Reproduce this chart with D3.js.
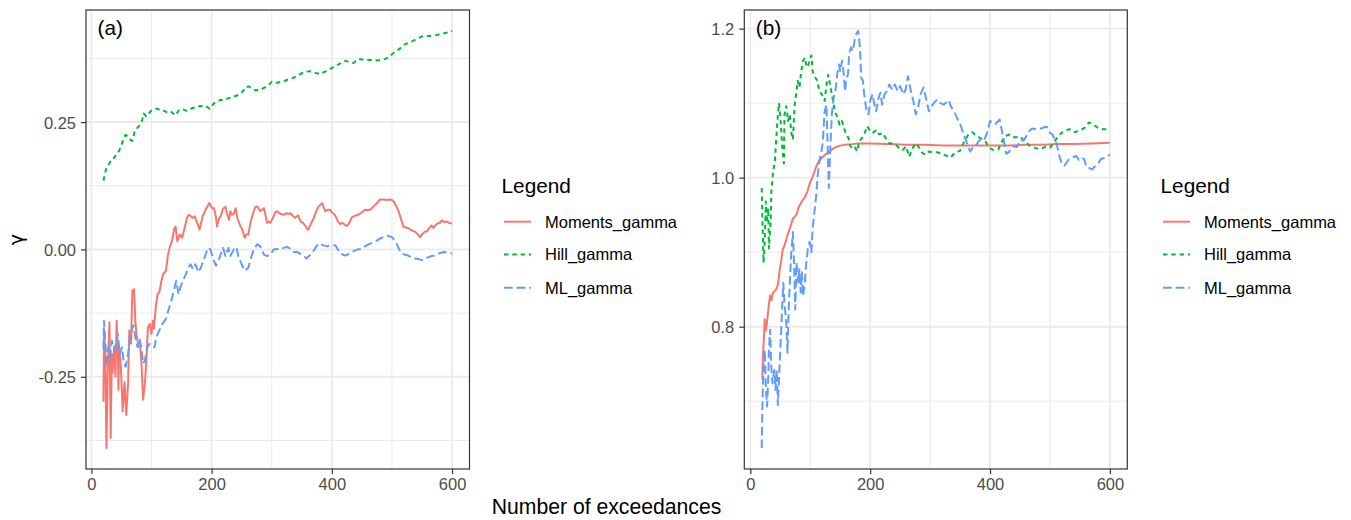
<!DOCTYPE html>
<html>
<head>
<meta charset="utf-8">
<script src="https://cdn.jsdelivr.net/npm/d3@7"></script>
<style>
  html, body { margin: 0; padding: 0; background: #ffffff; }
  svg { display: block; font-family: "Liberation Sans", Arial, Helvetica, sans-serif; }
</style>
</head>
<body>
<svg id="chart" width="1351" height="520"></svg>
<script>
// ---- Estimates of the tail index gamma against number of exceedances k ----

// Panel (a)
const momentsA = [
  [20,-0.299],[21,-0.166],[23,-0.2],[25,-0.39],[27,-0.25],[28,-0.205],[30,-0.143],[32,-0.37],
  [34,-0.205],[35,-0.243],[38,-0.19],[40,-0.25],[42,-0.14],[44,-0.2],[45,-0.276],[46,-0.19],
  [49,-0.23],[52,-0.318],[55,-0.26],[58,-0.325],[61,-0.263],[63,-0.159],[66,-0.185],[68,-0.081],
  [71,-0.078],[73,-0.14],[75,-0.166],[78,-0.19],[81,-0.19],[83,-0.218],[86,-0.295],[89,-0.263],
  [92,-0.205],[94,-0.153],[97,-0.146],[100,-0.166],[102,-0.14],[104,-0.156],[107,-0.114],[110,-0.088],
  [113,-0.084],[116,-0.065],[119,-0.049],[124,-0.042],[127,-0.013],[130,0.003],[134,0.016],[138,0.042],
  [140,0.045],[143,0.016],[147,0.029],[151,0.023],[155,0.042],[159,0.062],[162,0.068],[165,0.066],
  [168,0.062],[172,0.065],[176,0.052],[180,0.039],[185,0.065],[190,0.078],[196,0.091],[201,0.081],
  [204,0.081],[207,0.065],[209,0.045],[212,0.06],[215,0.065],[219,0.08],[223,0.084],[226,0.068],
  [229,0.058],[231,0.075],[234,0.068],[237,0.07],[240,0.081],[243,0.06],[245,0.055],[248,0.045],
  [251,0.039],[255,0.023],[258,0.03],[261,0.029],[265,0.055],[270,0.075],[273,0.084],[276,0.084],
  [281,0.075],[284,0.078],[287,0.081],[290,0.065],[292,0.052],[295,0.055],[298,0.052],[303,0.065],
  [306,0.073],[309,0.075],[314,0.07],[320,0.068],[325,0.071],[328,0.07],[331,0.071],[335,0.066],
  [339,0.062],[344,0.067],[348,0.055],[352,0.052],[356,0.046],[359,0.04],[361,0.039],[365,0.05],
  [370,0.062],[374,0.075],[378,0.084],[384,0.091],[389,0.075],[393,0.078],[397,0.078],[400,0.073],
  [403,0.07],[406,0.066],[410,0.055],[414,0.05],[418,0.052],[422,0.048],[425,0.046],[429,0.052],
  [433,0.063],[438,0.066],[444,0.068],[449,0.072],[455,0.078],[460,0.077],[464,0.078],[470,0.085],
  [475,0.091],[480,0.098],[486,0.098],[492,0.097],[497,0.098],[500,0.097],[503,0.094],[507,0.085],
  [511,0.075],[515,0.06],[519,0.045],[523,0.043],[527,0.042],[532,0.038],[538,0.035],[543,0.03],
  [547,0.024],[551,0.031],[555,0.035],[558,0.035],[562,0.042],[566,0.047],[569,0.042],[573,0.048],
  [577,0.052],[580,0.052],[583,0.057],[587,0.054],[591,0.055],[595,0.052],[600,0.051]
];

const hillA = [
  [20,0.135],[24,0.156],[27,0.163],[30,0.169],[35,0.179],[38,0.18],[42,0.188],[46,0.193],
  [50,0.205],[54,0.219],[57,0.225],[60,0.222],[64,0.216],[68,0.213],[72,0.232],[76,0.238],
  [80,0.243],[84,0.252],[87,0.267],[91,0.261],[95,0.266],[100,0.273],[105,0.276],[110,0.276],
  [116,0.272],[121,0.272],[126,0.269],[132,0.271],[137,0.266],[140,0.263],[146,0.274],[152,0.275],
  [159,0.272],[165,0.276],[170,0.278],[176,0.281],[182,0.281],[187,0.283],[192,0.28],[197,0.276],
  [204,0.287],[210,0.29],[215,0.294],[220,0.293],[226,0.296],[231,0.298],[237,0.3],[242,0.302],
  [248,0.305],[253,0.312],[256,0.318],[262,0.32],[268,0.315],[273,0.312],[277,0.313],[281,0.313],
  [287,0.317],[292,0.32],[296,0.324],[300,0.329],[305,0.327],[309,0.327],[315,0.329],[320,0.33],
  [326,0.333],[331,0.335],[336,0.337],[342,0.34],[346,0.343],[350,0.346],[355,0.347],[359,0.349],
  [363,0.35],[367,0.348],[374,0.346],[381,0.344],[385,0.347],[389,0.349],[395,0.353],[400,0.356],
  [404,0.359],[408,0.361],[414,0.365],[419,0.369],[423,0.37],[428,0.368],[432,0.367],[436,0.366],
  [440,0.37],[444,0.374],[450,0.373],[455,0.372],[462,0.372],[469,0.372],[476,0.371],[483,0.372],
  [489,0.374],[494,0.377],[498,0.381],[502,0.385],[508,0.39],[514,0.395],[518,0.399],[522,0.403],
  [529,0.406],[536,0.41],[543,0.414],[550,0.418],[555,0.418],[561,0.419],[568,0.42],[575,0.421],
  [582,0.423],[589,0.425],[594,0.426],[600,0.429]
];

const mlA = [
  [20,-0.195],[21,-0.14],[23,-0.179],[25,-0.23],[28,-0.192],[31,-0.211],[34,-0.179],[38,-0.198],
  [41,-0.185],[44,-0.166],[47,-0.205],[51,-0.192],[54,-0.224],[57,-0.23],[61,-0.205],[64,-0.179],
  [67,-0.159],[70,-0.149],[73,-0.172],[77,-0.192],[80,-0.175],[83,-0.192],[86,-0.224],[89,-0.218],
  [93,-0.192],[97,-0.185],[100,-0.188],[105,-0.192],[108,-0.172],[113,-0.159],[118,-0.146],[124,-0.136],
  [128,-0.12],[133,-0.1],[137,-0.081],[141,-0.062],[145,-0.088],[149,-0.071],[152,-0.062],[157,-0.049],
  [161,-0.036],[165,-0.029],[169,-0.039],[173,-0.029],[178,-0.045],[182,-0.036],[186,-0.023],[190,-0.01],
  [194,0.003],[198,0.0],[202,-0.016],[207,-0.032],[211,-0.023],[215,-0.01],[219,0.003],[223,-0.013],
  [228,0.003],[231,-0.013],[237,0.0],[241,0.005],[245,-0.016],[251,-0.032],[255,-0.042],[261,-0.036],
  [265,-0.019],[270,0.0],[276,0.01],[281,0.006],[287,-0.01],[292,-0.013],[298,-0.01],[303,0.0],
  [308,0.001],[314,0.001],[320,0.003],[325,0.005],[330,0.002],[336,-0.005],[342,-0.005],[347,-0.008],
  [353,-0.012],[358,-0.018],[363,-0.012],[367,-0.008],[372,0.002],[378,0.012],[382,0.01],[386,0.008],
  [392,0.006],[397,0.008],[401,0.008],[406,0.008],[410,0.0],[414,-0.008],[418,-0.01],[422,-0.012],
  [426,-0.01],[431,-0.008],[435,-0.004],[439,-0.002],[443,0.0],[447,0.001],[452,0.004],[458,0.008],
  [463,0.011],[469,0.014],[474,0.017],[480,0.021],[485,0.024],[491,0.027],[496,0.026],[500,0.024],
  [504,0.018],[508,0.011],[512,0.0],[516,-0.008],[521,-0.01],[527,-0.012],[532,-0.015],[538,-0.018],
  [544,-0.019],[550,-0.021],[555,-0.018],[561,-0.015],[566,-0.013],[572,-0.012],[578,-0.008],[586,-0.005],
  [592,-0.006],[600,-0.008]
];

// Panel (b)
const momentsB = [
  [20,0.729],[21,0.76],[23,0.79],[24,0.81],[26,0.795],[27,0.8],[29,0.815],[31,0.83],[33,0.842],
  [35,0.835],[38,0.846],[42,0.849],[45,0.853],[47,0.862],[49,0.876],[51,0.886],[54,0.903],[57,0.909],
  [60,0.917],[62,0.923],[66,0.932],[71,0.945],[77,0.95],[81,0.961],[86,0.968],[91,0.974],[95,0.981],
  [99,0.992],[104,1.001],[110,1.015],[115,1.023],[121,1.028],[127,1.032],[134,1.036],[140,1.04],
  [149,1.043],[157,1.044],[170,1.045],[180,1.046],[200,1.046],[230,1.045],[260,1.044],[290,1.044],
  [320,1.043],[360,1.043],[400,1.043],[430,1.043],[456,1.044],[490,1.044],[511,1.045],[540,1.045],
  [570,1.046],[600,1.047]
];

const hillB = [
  [19,0.986],[20,0.95],[22,0.886],[24,0.914],[26,0.968],[27,0.94],[30,0.959],[31,0.905],[34,0.94],
  [35,0.981],[38,1.008],[41,1.022],[43,1.049],[46,1.085],[48,1.1],[51,1.071],[53,1.044],[56,1.019],
  [57,1.085],[60,1.096],[63,1.076],[66,1.085],[68,1.062],[71,1.051],[74,1.098],[77,1.116],[79,1.13],
  [82,1.121],[85,1.143],[88,1.157],[91,1.161],[93,1.152],[96,1.148],[99,1.159],[102,1.164],[104,1.143],
  [107,1.136],[112,1.13],[115,1.116],[119,1.112],[124,1.103],[128,1.13],[130,1.138],[134,1.121],
  [138,1.103],[141,1.089],[146,1.08],[149,1.071],[153,1.076],[156,1.067],[160,1.058],[164,1.053],
  [167,1.042],[171,1.04],[174,1.042],[178,1.035],[182,1.049],[186,1.053],[190,1.058],[195,1.069],
  [199,1.064],[204,1.06],[210,1.064],[215,1.058],[221,1.06],[226,1.053],[232,1.046],[237,1.046],
  [243,1.044],[248,1.04],[254,1.037],[260,1.042],[265,1.028],[271,1.04],[276,1.046],[282,1.04],
  [287,1.033],[293,1.031],[298,1.035],[304,1.034],[312,1.034],[323,1.031],[334,1.027],[342,1.034],
  [350,1.036],[356,1.047],[364,1.058],[370,1.061],[378,1.056],[386,1.052],[392,1.049],[399,1.04],
  [406,1.037],[414,1.038],[419,1.047],[425,1.056],[433,1.058],[441,1.054],[450,1.055],[458,1.049],
  [466,1.043],[475,1.04],[483,1.038],[491,1.041],[500,1.04],[508,1.049],[516,1.058],[524,1.063],
  [533,1.065],[541,1.061],[549,1.063],[558,1.067],[565,1.074],[571,1.072],[580,1.067],[588,1.065],
  [600,1.065]
];

const mlB = [
  [19,0.637],[20,0.688],[22,0.747],[24,0.769],[26,0.715],[28,0.693],[30,0.733],[31,0.769],[33,0.796],
  [35,0.747],[37,0.724],[40,0.742],[42,0.715],[44,0.742],[46,0.695],[49,0.751],[51,0.787],[53,0.823],
  [55,0.859],[57,0.832],[60,0.805],[62,0.765],[64,0.823],[66,0.859],[68,0.895],[71,0.927],[73,0.882],
  [75,0.823],[77,0.886],[80,0.859],[82,0.877],[84,0.846],[86,0.873],[88,0.841],[91,0.859],[93,0.882],
  [96,0.905],[99,0.914],[102,0.9],[104,0.932],[107,0.954],[110,0.977],[113,1.008],[116,1.026],
  [118,1.031],[121,1.049],[124,1.089],[127,1.098],[129,1.044],[131,0.986],[133,1.031],[136,1.085],
  [139,1.107],[142,1.116],[145,1.139],[148,1.152],[150,1.143],[153,1.157],[156,1.139],[158,1.116],
  [160,1.13],[163,1.139],[165,1.166],[168,1.175],[171,1.17],[174,1.184],[177,1.193],[180,1.197],
  [183,1.175],[185,1.134],[188,1.13],[190,1.112],[194,1.089],[197,1.085],[200,1.103],[204,1.112],
  [207,1.098],[210,1.089],[214,1.107],[217,1.114],[220,1.098],[224,1.112],[228,1.116],[232,1.125],
  [237,1.118],[241,1.125],[246,1.116],[250,1.123],[255,1.112],[259,1.118],[263,1.136],[268,1.116],
  [272,1.103],[276,1.085],[280,1.094],[284,1.112],[289,1.121],[293,1.107],[298,1.089],[301,1.094],
  [306,1.1],[312,1.105],[317,1.1],[323,1.098],[331,1.104],[335,1.095],[340,1.089],[345,1.08],
  [351,1.07],[356,1.058],[362,1.045],[367,1.035],[371,1.04],[375,1.041],[380,1.048],[385,1.052],
  [390,1.05],[395,1.06],[400,1.076],[405,1.074],[409,1.072],[416,1.078],[422,1.054],[427,1.032],
  [431,1.034],[436,1.04],[441,1.042],[445,1.041],[450,1.05],[456,1.05],[461,1.056],[466,1.063],
  [470,1.066],[477,1.065],[482,1.066],[486,1.066],[491,1.068],[495,1.068],[500,1.06],[504,1.058],
  [511,1.046],[516,1.028],[520,1.018],[524,1.016],[531,1.024],[537,1.027],[544,1.029],[548,1.024],
  [553,1.027],[557,1.025],[561,1.014],[565,1.013],[570,1.011],[575,1.015],[580,1.018],[585,1.025],
  [590,1.026],[595,1.028],[600,1.031]
];

// Series identity (legend order)
const seriesNames = ["Moments_gamma", "Hill_gamma", "ML_gamma"];

// Axis ticks
const xTickValues = [0, 200, 400, 600];
const xTickLabels = ["0", "200", "400", "600"];
const xMinorValues = [100, 300, 500];

const yTickValuesA = [-0.25, 0, 0.25];
const yTickLabelsA = ["-0.25", "0.00", "0.25"];
const yMinorValuesA = [-0.375, -0.125, 0.125, 0.375];

const yTickValuesB = [0.8, 1.0, 1.2];
const yTickLabelsB = ["0.8", "1.0", "1.2"];
const yMinorValuesB = [0.7, 0.9, 1.1];

// ---- Styling ----
const colors = ["#F8766D", "#00BA38", "#619CFF"];
const dashes = [null, "4.5,3.8", "8.7,4"];
const tickFont = 16.5, titleFont = 20.8, axisTitleFont = 21.2;
const gridColor = "#EBEBEB", inkColor = "#333333", tickTextColor = "#4D4D4D";

const svg = d3.select("#chart");

const panels = [
  { tag: "(a)", series: [momentsA, hillA, mlA], left: 86, right: 469.5, top: 10, bottom: 469,
    yTicks: yTickValuesA, yLabels: yTickLabelsA, yMinor: yMinorValuesA, legendX: 501.5 },
  { tag: "(b)", series: [momentsB, hillB, mlB], left: 744.3, right: 1127.3, top: 10, bottom: 469,
    yTicks: yTickValuesB, yLabels: yTickLabelsB, yMinor: yMinorValuesB, legendX: 1160.5 }
];

// ggplot-style continuous expansion: 5% on each side of the data range
function expanded(ext) {
  const pad = (ext[1] - ext[0]) * 0.05;
  return [ext[0] - pad, ext[1] + pad];
}

panels.forEach((p, pi) => {
  const all = p.series.flat();
  const x = d3.scaleLinear().domain(expanded(d3.extent(all, d => d[0]))).range([p.left, p.right]);
  const y = d3.scaleLinear().domain(expanded(d3.extent(all, d => d[1]))).range([p.bottom, p.top]);

  const g = svg.append("g");

  // panel background
  g.append("rect").attr("x", p.left).attr("y", p.top)
    .attr("width", p.right - p.left).attr("height", p.bottom - p.top).attr("fill", "#ffffff");

  // minor grid
  g.selectAll(null).data(xMinorValues).enter().append("line")
    .attr("x1", d => x(d)).attr("x2", d => x(d)).attr("y1", p.top).attr("y2", p.bottom)
    .attr("stroke", gridColor).attr("stroke-width", 1);
  g.selectAll(null).data(p.yMinor).enter().append("line")
    .attr("y1", d => y(d)).attr("y2", d => y(d)).attr("x1", p.left).attr("x2", p.right)
    .attr("stroke", gridColor).attr("stroke-width", 1);

  // major grid
  g.selectAll(null).data(xTickValues).enter().append("line")
    .attr("x1", d => x(d)).attr("x2", d => x(d)).attr("y1", p.top).attr("y2", p.bottom)
    .attr("stroke", gridColor).attr("stroke-width", 1.9);
  g.selectAll(null).data(p.yTicks).enter().append("line")
    .attr("y1", d => y(d)).attr("y2", d => y(d)).attr("x1", p.left).attr("x2", p.right)
    .attr("stroke", gridColor).attr("stroke-width", 1.9);

  // lines
  const clipId = "clip" + pi;
  svg.append("clipPath").attr("id", clipId).append("rect")
    .attr("x", p.left).attr("y", p.top).attr("width", p.right - p.left).attr("height", p.bottom - p.top);
  const line = d3.line().x(d => x(d[0])).y(d => y(d[1]));
  p.series.forEach((s, si) => {
    g.append("path").datum(s).attr("d", line)
      .attr("clip-path", `url(#${clipId})`)
      .attr("fill", "none").attr("stroke", colors[si]).attr("stroke-width", 2)
      .attr("stroke-linejoin", "round").attr("stroke-linecap", "butt")
      .attr("stroke-dasharray", dashes[si]);
  });

  // panel border
  g.append("rect").attr("x", p.left).attr("y", p.top)
    .attr("width", p.right - p.left).attr("height", p.bottom - p.top)
    .attr("fill", "none").attr("stroke", inkColor).attr("stroke-width", 1.2);

  // x axis
  const xAxis = d3.axisBottom(x).tickValues(xTickValues)
    .tickFormat((d, i) => xTickLabels[i]).tickSize(5).tickPadding(4);
  const gx = g.append("g").attr("transform", `translate(0,${p.bottom})`).call(xAxis);
  gx.select(".domain").remove();
  gx.selectAll(".tick line").attr("stroke", inkColor).attr("stroke-width", 1.2);
  gx.selectAll(".tick text").attr("fill", tickTextColor).attr("font-size", tickFont)
    .attr("font-family", "Liberation Sans, Arial, sans-serif").attr("dy", "0.74em");

  // y axis
  const yAxis = d3.axisLeft(y).tickValues(p.yTicks)
    .tickFormat((d, i) => p.yLabels[i]).tickSize(5).tickPadding(5);
  const gy = g.append("g").attr("transform", `translate(${p.left},0)`).call(yAxis);
  gy.select(".domain").remove();
  gy.selectAll(".tick line").attr("stroke", inkColor).attr("stroke-width", 1.2);
  gy.selectAll(".tick text").attr("fill", tickTextColor).attr("font-size", tickFont)
    .attr("font-family", "Liberation Sans, Arial, sans-serif").attr("dy", "0.36em");

  // panel tag
  g.append("text").attr("x", p.left + 11.5).attr("y", p.top + 25)
    .attr("font-size", titleFont).attr("fill", "#000").text(p.tag);

  // legend
  const lg = g.append("g");
  lg.append("text").attr("x", p.legendX).attr("y", 193)
    .attr("font-size", titleFont).attr("fill", "#000").text("Legend");
  const rowY = [221.7, 254.5, 287.7];
  seriesNames.forEach((name, si) => {
    lg.append("line").attr("x1", p.legendX + 2.5).attr("x2", p.legendX + 29.5)
      .attr("y1", rowY[si]).attr("y2", rowY[si])
      .attr("stroke", colors[si]).attr("stroke-width", 2)
      .attr("stroke-dasharray", dashes[si]);
    lg.append("text").attr("x", p.legendX + 43.5).attr("y", rowY[si]).attr("dy", "0.36em")
      .attr("font-size", tickFont).attr("fill", "#000").text(name);
  });
});

// shared axis titles
svg.append("text").attr("x", 606.5).attr("y", 514).attr("text-anchor", "middle")
  .attr("font-size", axisTitleFont).attr("fill", "#000").text("Number of exceedances");
svg.append("text").attr("transform", "translate(23,239.5) rotate(-90)").attr("text-anchor", "middle")
  .attr("font-family", "DejaVu Sans, Liberation Sans, sans-serif")
  .attr("font-size", 19).attr("fill", "#000").text("γ");
</script>
</body>
</html>
